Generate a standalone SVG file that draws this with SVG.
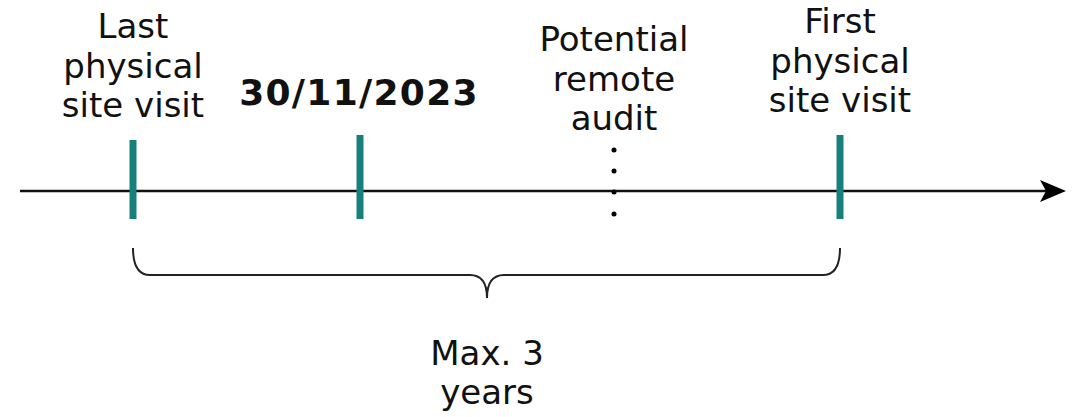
<svg xmlns="http://www.w3.org/2000/svg" width="1081" height="417" viewBox="0 0 1081 417">
<style>
text{font-family:"DejaVu Sans",Verdana,sans-serif;font-size:34px;fill:#111;text-anchor:middle}
.b{font-weight:bold;font-size:36px;letter-spacing:1.3px}
.tick{stroke:#17807b;stroke-width:7}
</style>
<rect width="1081" height="417" fill="#fff"/>
<g id="connectors">
<line x1="20" y1="191" x2="1060" y2="191" stroke="#111" stroke-width="2.5"/>
<path d="M1040,180 L1066,191 L1040,202 L1046,191 Z" fill="#000"/>
<path d="M133,248 Q133,275 150,275 L470,275 Q487,275 487,298 Q487,275 504,275 L823,275 Q840,275 840,248" fill="none" stroke="#222" stroke-width="2"/>
</g>
<g id="last"><line class="tick" x1="133" y1="140" x2="133" y2="219"/><text x="133" y="38">Last</text><text x="133" y="78">physical</text><text x="133" y="117">site visit</text></g>
<g id="date"><line class="tick" x1="360" y1="135" x2="360" y2="219"/><text class="b" x="359" y="105">30/11/2023</text></g>
<g id="remote"><g fill="#000"><circle cx="614" cy="150" r="2.5"/><circle cx="614" cy="171" r="2.5"/><circle cx="614" cy="192" r="2.5"/><circle cx="614" cy="214" r="2.5"/></g><text x="614" y="51">Potential</text><text x="614" y="91">remote</text><text x="614" y="130">audit</text></g>
<g id="first"><line class="tick" x1="840" y1="135" x2="840" y2="219"/><text x="840" y="33">First</text><text x="840" y="73">physical</text><text x="840" y="112">site visit</text></g>
<g id="max"><text x="487" y="365">Max. 3</text><text x="487" y="404">years</text></g>
</svg>
